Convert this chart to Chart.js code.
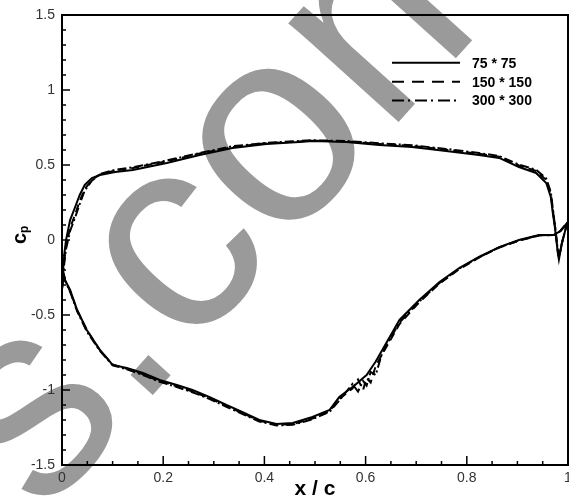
<!DOCTYPE html>
<html><head><meta charset="utf-8">
<script src="https://cdn.jsdelivr.net/npm/chart.js@4.4.0/dist/chart.umd.min.js"></script>
<style>html,body{margin:0;padding:0;background:#fff;} #wrap{width:569px;height:504px;}</style>
</head><body><div id="wrap"><canvas id="c" width="569" height="504"></canvas></div>
<script>
// ---- data ----
const seriesLabels = ['75 * 75', '150 * 150', '300 * 300'];
const xTicks = [0, 0.2, 0.4, 0.6, 0.8, 1];
const xTickLabels = ['0', '0.2', '0.4', '0.6', '0.8', '1'];
const yTicks = [-1.5, -1, -0.5, 0, 0.5, 1, 1.5];
const yTickLabels = ['-1.5', '-1', '-0.5', '0', '0.5', '1', '1.5'];

// upper branch (positive Cp), leading edge -> trailing edge
const xUpper = [0.000, 0.002, 0.005, 0.008, 0.016, 0.026, 0.035, 0.045, 0.059, 0.075, 0.105, 0.14, 0.207, 0.272, 0.337, 0.404, 0.469, 0.495, 0.562, 0.627, 0.692, 0.759, 0.824, 0.864, 0.903, 0.937, 0.957, 0.966, 0.970, 0.974, 0.980, 0.982, 0.988, 0.995, 1.0];
const cpUpper75 = [-0.33, -0.20, -0.08, 0.00, 0.133, 0.22, 0.30, 0.367, 0.413, 0.433, 0.453, 0.467, 0.513, 0.567, 0.613, 0.640, 0.653, 0.660, 0.653, 0.633, 0.620, 0.593, 0.567, 0.547, 0.487, 0.447, 0.380, 0.287, 0.180, 0.087, -0.087, -0.13, -0.02, 0.07, 0.12];
const cpUpper150 = [-0.33, -0.22, -0.12, -0.04, 0.08, 0.17, 0.26, 0.34, 0.40, 0.437, 0.463, 0.480, 0.525, 0.577, 0.620, 0.645, 0.657, 0.662, 0.657, 0.640, 0.627, 0.602, 0.575, 0.555, 0.497, 0.460, 0.400, 0.310, 0.200, 0.100, -0.08, -0.12, -0.02, 0.07, 0.12];
const cpUpper300 = [-0.33, -0.23, -0.14, -0.06, 0.06, 0.15, 0.24, 0.33, 0.395, 0.440, 0.468, 0.485, 0.530, 0.580, 0.625, 0.648, 0.660, 0.665, 0.660, 0.645, 0.632, 0.607, 0.580, 0.560, 0.503, 0.468, 0.410, 0.320, 0.210, 0.105, -0.07, -0.11, -0.02, 0.07, 0.12];

// lower branch (negative Cp), leading edge -> trailing edge
const xLower = [0.003, 0.006, 0.016, 0.030, 0.049, 0.075, 0.10, 0.128, 0.160, 0.193, 0.227, 0.258, 0.292, 0.325, 0.357, 0.39, 0.424, 0.456, 0.495, 0.529, 0.548, 0.574, 0.585, 0.595, 0.602, 0.61, 0.62, 0.633, 0.667, 0.706, 0.746, 0.785, 0.824, 0.864, 0.903, 0.943, 0.972, 0.985, 1.0];
const cpLower75 = [-0.22, -0.267, -0.333, -0.467, -0.60, -0.733, -0.833, -0.853, -0.887, -0.933, -0.967, -1.000, -1.047, -1.100, -1.147, -1.200, -1.227, -1.220, -1.180, -1.133, -1.047, -0.980, -0.950, -0.920, -0.900, -0.860, -0.810, -0.733, -0.533, -0.400, -0.280, -0.187, -0.113, -0.047, 0.000, 0.033, 0.033, 0.06, 0.12];
const cpLower150 = [-0.22, -0.270, -0.340, -0.470, -0.60, -0.735, -0.830, -0.858, -0.895, -0.940, -0.975, -1.010, -1.055, -1.107, -1.155, -1.205, -1.232, -1.228, -1.190, -1.140, -1.060, -0.990, -0.930, -1.000, -0.920, -0.950, -0.840, -0.760, -0.560, -0.415, -0.290, -0.195, -0.118, -0.050, -0.005, 0.030, 0.033, 0.06, 0.12];
const cpLower300 = [-0.22, -0.272, -0.345, -0.475, -0.61, -0.740, -0.835, -0.862, -0.900, -0.945, -0.980, -1.015, -1.060, -1.112, -1.160, -1.210, -1.236, -1.232, -1.195, -1.145, -1.070, -0.960, -1.010, -0.940, -0.970, -0.880, -0.900, -0.750, -0.550, -0.410, -0.287, -0.192, -0.116, -0.049, -0.003, 0.031, 0.033, 0.06, 0.12];

function loop(cpU, cpL) {
  const pts = [];
  for (let i = xUpper.length - 1; i >= 0; i--) pts.push({x: xUpper[i], y: cpU[i]});
  for (let i = 0; i < xLower.length; i++) pts.push({x: xLower[i], y: cpL[i]});
  return pts;
}
const dashes = [[], [8, 5], [9, 3, 2, 3]];
const legendDashes = [[], [12, 8], [12, 4, 2, 5]];
const FONT = '"Liberation Sans", Arial, Helvetica, sans-serif';

const decor = {
  id: 'decor',
  beforeDraw(chart) {
    const ctx = chart.ctx;
    ctx.save();
    ctx.fillStyle = '#fff';
    ctx.fillRect(0, 0, chart.width, chart.height);
    // watermark
    ctx.fillStyle = '#9a9a9a';
    ctx.font = '280px ' + FONT;
    ctx.translate(42, 518);
    ctx.rotate(-48 * Math.PI / 180);
    ctx.textBaseline = 'alphabetic';
    ctx.textAlign = 'left';
    ctx.fillText('s.com', 0, 0);
    ctx.restore();
  },
  afterDraw(chart) {
    const ctx = chart.ctx;
    const a = chart.chartArea;
    const xs = chart.scales.x, ys = chart.scales.y;
    ctx.save();
    ctx.strokeStyle = '#000';
    // frame
    ctx.lineWidth = 2;
    ctx.strokeRect(a.left, a.top, a.right - a.left, a.bottom - a.top);
    // ticks
    ctx.lineWidth = 1.5;
    ctx.beginPath();
    for (let k = 0; k <= 20; k++) {
      const v = k * 0.05;
      const px = xs.getPixelForValue(v);
      const len = (k % 4 === 0) ? 9 : 4;
      ctx.moveTo(px, a.bottom); ctx.lineTo(px, a.bottom - len);
    }
    for (let k = -15; k <= 15; k++) {
      const v = k * 0.1;
      const py = ys.getPixelForValue(v);
      const len = (k % 5 === 0) ? 8 : 4;
      ctx.moveTo(a.left, py); ctx.lineTo(a.left + len, py);
    }
    ctx.stroke();
    // axis titles
    ctx.fillStyle = '#000';
    ctx.font = 'bold 21px ' + FONT;
    ctx.textAlign = 'center';
    ctx.textBaseline = 'alphabetic';
    ctx.fillText('x / c', (a.left + a.right) / 2, 495);
    ctx.save();
    ctx.translate(26, 244);
    ctx.rotate(-Math.PI / 2);
    ctx.textAlign = 'left';
    ctx.font = 'bold 20px ' + FONT;
    ctx.fillText('c', 0, 0);
    const w = ctx.measureText('c').width;
    ctx.font = 'bold 12px ' + FONT;
    ctx.fillText('p', w, 2);
    ctx.restore();
    // legend
    const ly = [62.7, 81.7, 100.5];
    ctx.font = 'bold 14px ' + FONT;
    ctx.textAlign = 'left';
    ctx.textBaseline = 'middle';
    for (let i = 0; i < 3; i++) {
      ctx.lineWidth = 2;
      ctx.setLineDash(legendDashes[i]);
      ctx.beginPath();
      ctx.moveTo(392, ly[i]); ctx.lineTo(460, ly[i]);
      ctx.stroke();
      ctx.setLineDash([]);
      ctx.fillText(seriesLabels[i], 472, ly[i] + 1);
    }
    ctx.restore();
  }
};

new Chart(document.getElementById('c'), {
  type: 'scatter',
  data: {
    datasets: [
      {label: seriesLabels[0], data: loop(cpUpper75, cpLower75)},
      {label: seriesLabels[1], data: loop(cpUpper150, cpLower150)},
      {label: seriesLabels[2], data: loop(cpUpper300, cpLower300)}
    ].map((d, i) => Object.assign(d, {
      showLine: true, pointRadius: 0, borderColor: '#000', backgroundColor: '#000',
      borderWidth: 2, borderDash: dashes[i], tension: 0, fill: false
    }))
  },
  options: {
    responsive: false, animation: false, devicePixelRatio: 1,
    layout: {padding: {top: 15, right: 1, left: 0, bottom: 0}},
    plugins: {legend: {display: false}, tooltip: {enabled: false}},
    scales: {
      x: {
        type: 'linear', min: 0, max: 1,
        afterBuildTicks: s => { s.ticks = xTicks.map(v => ({value: v})); },
        afterFit: s => { s.height = 39; s.paddingLeft = 0; s.paddingRight = 0; },
        grid: {display: false, drawTicks: false}, border: {display: false},
        ticks: {padding: 5, color: '#333', font: {family: FONT, size: 14}, maxRotation: 0, autoSkip: false,
          callback: (v, i) => xTickLabels[i]}
      },
      y: {
        type: 'linear', min: -1.5, max: 1.5,
        afterBuildTicks: s => { s.ticks = yTicks.map(v => ({value: v})); },
        afterFit: s => { s.width = 62; s.paddingTop = 0; s.paddingBottom = 0; },
        grid: {display: false, drawTicks: false}, border: {display: false},
        ticks: {padding: 7, color: '#333', font: {family: FONT, size: 14}, autoSkip: false,
          callback: (v, i) => yTickLabels[i]}
      }
    }
  },
  plugins: [decor]
});
</script>
</body></html>
